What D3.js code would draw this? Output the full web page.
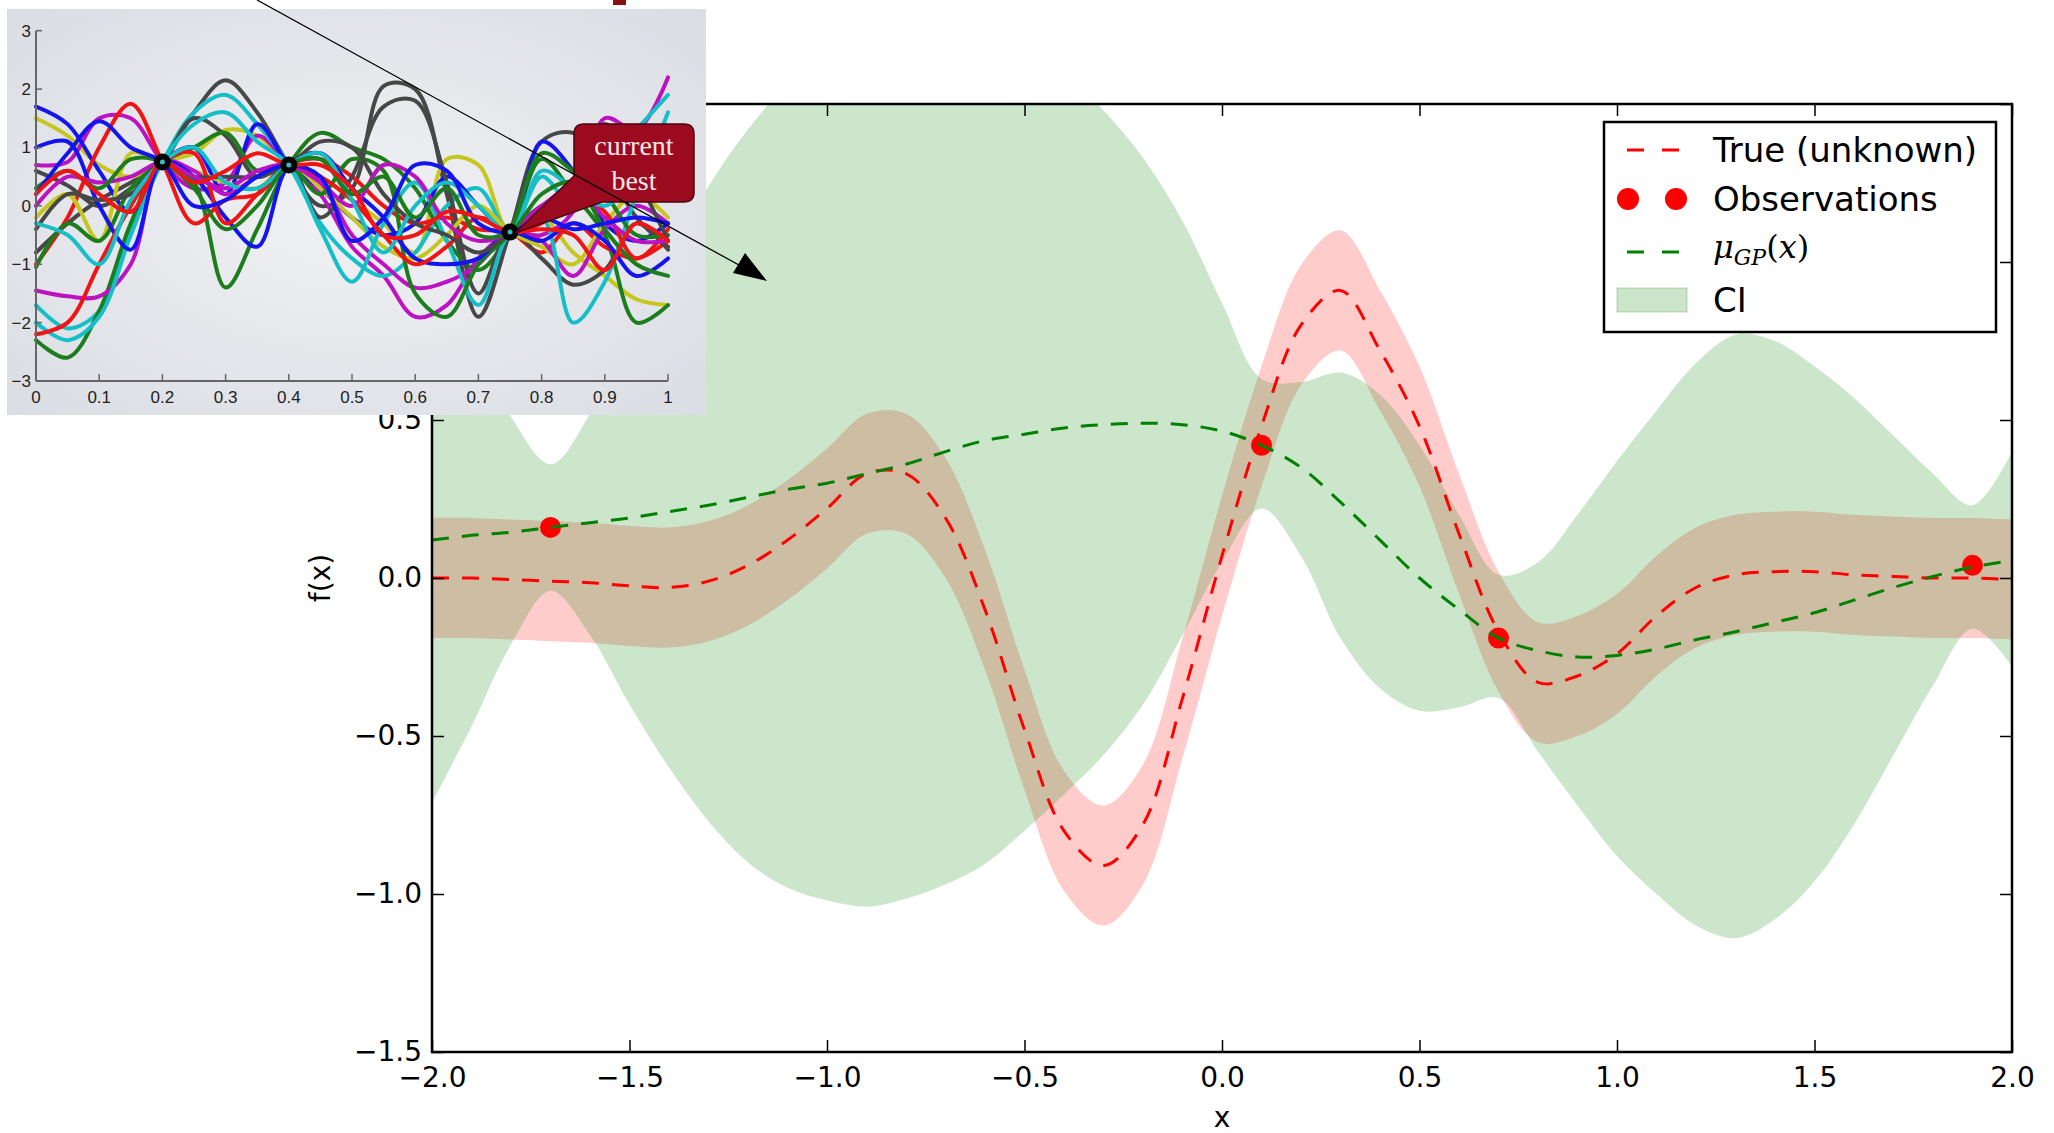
<!DOCTYPE html>
<html><head><meta charset="utf-8">
<script src="https://cdn.jsdelivr.net/npm/d3@7"></script>
<style>body{margin:0;background:#fff}svg{display:block}</style>
</head><body>
<svg id="c" width="2054" height="1133" xmlns="http://www.w3.org/2000/svg"></svg>
<script>
// ---------- main chart data ----------
const xGrid = [-2.0,-1.9,-1.8,-1.7,-1.6,-1.5,-1.4,-1.3,-1.2,-1.1,-1.0,-0.9,-0.8,-0.7,-0.6,-0.5,-0.4,-0.3,-0.2,-0.1,0.0,0.1,0.2,0.3,0.4,0.5,0.6,0.7,0.8,0.9,1.0,1.1,1.2,1.3,1.4,1.5,1.6,1.7,1.8,1.9,2.0];
const trueVals = [0.00,0.00,-0.005,-0.01,-0.015,-0.025,-0.03,-0.01,0.04,0.12,0.22,0.33,0.33,0.19,-0.10,-0.48,-0.80,-0.91,-0.78,-0.38,0.07,0.48,0.80,0.91,0.72,0.48,0.14,-0.17,-0.33,-0.31,-0.24,-0.12,-0.03,0.01,0.02,0.02,0.01,0.005,0.0,0.0,-0.005];
const trueNoise = 0.19;
const meanVals = [0.12,0.135,0.145,0.16,0.175,0.19,0.21,0.23,0.255,0.28,0.30,0.33,0.36,0.40,0.435,0.455,0.475,0.485,0.49,0.485,0.465,0.42,0.35,0.24,0.12,0.0,-0.10,-0.19,-0.23,-0.25,-0.245,-0.225,-0.195,-0.17,-0.14,-0.11,-0.07,-0.03,0.005,0.035,0.055];
const ciUpper = [0.95,0.74,0.51,0.36,0.52,0.78,1.02,1.24,1.42,1.56,1.64,1.70,1.74,1.75,1.73,1.68,1.61,1.48,1.33,1.13,0.87,0.63,0.62,0.65,0.58,0.42,0.20,0.01,0.05,0.20,0.37,0.53,0.68,0.77,0.75,0.67,0.57,0.45,0.33,0.23,0.40];
const ciLower = [-0.71,-0.47,-0.21,-0.04,-0.18,-0.40,-0.60,-0.77,-0.90,-0.98,-1.02,-1.04,-1.015,-0.97,-0.905,-0.80,-0.685,-0.56,-0.40,-0.18,0.05,0.22,0.07,-0.19,-0.35,-0.42,-0.41,-0.38,-0.55,-0.72,-0.88,-1.00,-1.10,-1.14,-1.08,-0.96,-0.78,-0.56,-0.34,-0.16,-0.28];
const obsX = [-1.7,0.1,0.7,1.9];
const obsY = [0.16,0.42,-0.19,0.04];
const xTicks = [-2.0,-1.5,-1.0,-0.5,0.0,0.5,1.0,1.5,2.0];
const yTicks = [-1.5,-1.0,-0.5,0.0,0.5,1.0,1.5];
const legendLabels = ["True (unknown)","Observations","CI"];

// ---------- inset data ----------
const insetX = [0,0.05,0.1,0.15,0.2,0.25,0.3,0.35,0.4,0.45,0.5,0.55,0.6,0.65,0.7,0.75,0.8,0.85,0.9,0.95,1.0];
const insetObsX = [0.2,0.4,0.75];
const insetObsY = [0.75,0.7,-0.45];
const insetXTicks = [0,0.1,0.2,0.3,0.4,0.5,0.6,0.7,0.8,0.9,1];
const insetYTicks = [-3,-2,-1,0,1,2,3];
const insetGray = [
 [-0.8,-0.3,0.1,0.4,0.75,1.6,2.15,1.6,0.7,0.0,0.3,2.05,2.0,0.2,-1.9,-0.45,1.1,1.25,0.7,-0.2,-0.7],
 [0.6,0.35,0.0,0.3,0.75,1.5,1.2,0.5,0.7,-0.2,0.5,1.7,1.8,0.4,-1.5,-0.45,-0.9,-1.35,-1.1,-0.3,-0.75],
 [-0.4,0.2,0.1,0.2,0.75,0.5,0.5,0.5,0.7,1.1,1.0,0.2,-0.3,-0.5,-0.8,-0.45,0.0,0.2,1.4,0.5,-0.6]];
const insetBlue = [
 [1.7,1.4,0.6,-0.1,0.75,1.0,0.2,1.4,0.7,0.3,-0.2,-0.5,-0.3,0.5,0.0,-0.45,1.1,0.6,-0.3,-0.6,-0.3],
 [1.0,1.1,0.0,-0.75,0.75,0.5,-0.2,-0.7,0.7,0.9,0.3,-0.2,-0.9,-1.0,-0.9,-0.45,-0.6,-0.3,-0.6,-1.2,-0.9],
 [0.2,0.9,1.45,1.0,0.75,0.0,0.1,0.5,0.7,0.5,-0.6,-0.2,0.7,0.6,-0.3,-0.45,-0.2,-0.4,-0.3,-0.2,-0.3]];
const insetRed = [
 [-1.0,-0.2,1.0,1.75,0.75,-0.3,0.1,0.2,0.7,0.8,0.5,0.0,-0.3,-0.2,-0.4,-0.45,-0.8,-0.3,-0.7,-0.9,-0.6],
 [-2.2,-2.0,-1.0,0.0,0.75,0.9,-0.3,0.2,0.7,0.5,0.1,-0.5,-1.0,-0.7,-0.2,-0.45,-0.3,0.2,-0.1,-0.9,-0.4],
 [0.2,0.6,0.2,-0.1,0.75,0.4,0.6,0.9,0.7,0.7,0.3,-0.5,-0.5,-0.1,-0.2,-0.45,-0.4,-0.5,-1.1,-0.3,-0.6]];
const insetGreen = [
 [-2.3,-2.6,-1.8,-0.3,0.75,0.4,-1.4,-0.4,0.7,1.25,1.0,0.8,0.3,-0.6,-1.1,-0.45,0.8,0.2,-0.5,-2.0,-1.7],
 [-1.05,-0.3,-0.6,0.3,0.75,1.0,1.25,0.6,0.7,0.2,0.8,0.6,-1.5,-1.9,-1.0,-0.45,0.9,0.6,0.2,-0.5,-0.5],
 [0.3,0.6,0.3,0.8,0.75,0.3,-0.4,0.0,0.7,0.8,0.2,0.5,-0.2,0.3,-0.5,-0.45,0.2,0.4,-0.4,-1.0,-1.2]];
const insetCyan = [
 [-1.7,-2.1,-1.8,-0.4,0.75,1.6,1.9,1.4,0.7,-0.3,-0.9,-1.2,-0.8,0.0,0.3,-0.45,0.5,0.0,0.7,1.3,1.9],
 [-2.0,-2.3,-1.9,-0.5,0.75,1.4,1.6,1.1,0.7,-0.4,-1.3,-0.3,0.4,-0.6,-1.7,-0.45,-0.2,-2.0,-1.3,0.2,1.6],
 [-0.3,-0.5,-1.0,0.1,0.75,1.0,0.4,0.3,0.7,0.9,0.1,-0.8,0.0,0.4,0.0,-0.45,0.6,0.3,0.0,0.4,0.1]];
const insetMagenta = [
 [0.7,0.75,1.5,1.5,0.75,0.3,0.4,1.2,0.7,0.2,-0.7,-1.2,-1.9,-1.7,-0.9,-0.45,-0.5,-0.1,1.5,1.3,2.2],
 [-1.45,-1.55,-1.55,-1.0,0.75,0.6,0.2,0.5,0.7,0.4,-0.5,-1.0,-1.4,-1.3,-1.0,-0.45,-0.6,-1.2,-0.4,0.0,-0.3],
 [0.0,0.5,0.4,0.5,0.75,0.5,0.3,0.6,0.7,0.4,0.0,0.7,0.5,-0.3,-0.6,-0.45,0.0,0.3,-0.2,-0.6,-0.6]];
const insetYellow = [
 [1.5,1.2,0.7,0.5,0.75,0.9,1.3,1.2,0.7,0.5,0.1,-0.3,-0.8,0.8,0.7,-0.45,-0.2,-0.8,-1.2,-1.6,-1.7],
 [-0.2,0.2,-0.6,0.9,0.75,0.6,0.4,0.3,0.7,0.3,-0.2,-0.7,-0.9,-0.5,0.0,-0.45,-0.7,-1.0,-0.3,0.2,-0.2]];

// ---------- drawing ----------
const svg = d3.select("#c");
const defs = svg.append("defs");
const FONT = "DejaVu Sans";
const x = d3.scaleLinear([-2, 2], [432, 2012]);
const y = d3.scaleLinear([-1.5, 1.5], [1052, 104]);
const smooth = d3.curveCatmullRom.alpha(0.5);

defs.append("clipPath").attr("id","plotClip").append("rect")
  .attr("x",432).attr("y",104).attr("width",1580).attr("height",948);
const plot = svg.append("g").attr("clip-path","url(#plotClip)");

const redBand = d3.area().curve(smooth)
  .x((d,i)=>x(xGrid[i])).y0((d,i)=>y(trueVals[i]-trueNoise)).y1((d,i)=>y(trueVals[i]+trueNoise));
plot.append("path").datum(xGrid).attr("d",redBand).attr("fill","#ff0000").attr("fill-opacity",0.2);
const ciArea = d3.area().curve(smooth)
  .x((d,i)=>x(xGrid[i])).y0((d,i)=>y(ciLower[i])).y1((d,i)=>y(ciUpper[i]));
plot.append("path").datum(xGrid).attr("d",ciArea).attr("fill","#008000").attr("fill-opacity",0.2);

const trueLine = d3.line().curve(smooth).x((d,i)=>x(xGrid[i])).y((d,i)=>y(trueVals[i]));
plot.append("path").datum(xGrid).attr("d",trueLine).attr("fill","none")
  .attr("stroke","#ff0000").attr("stroke-width",3).attr("stroke-dasharray","17,13");
plot.selectAll("circle.obs").data(obsX).join("circle").attr("class","obs")
  .attr("cx",d=>x(d)).attr("cy",(d,i)=>y(obsY[i])).attr("r",10.5).attr("fill","#ff0000");
const meanLine = d3.line().curve(smooth).x((d,i)=>x(xGrid[i])).y((d,i)=>y(meanVals[i]));
plot.append("path").datum(xGrid).attr("d",meanLine).attr("fill","none")
  .attr("stroke","#008000").attr("stroke-width",3).attr("stroke-dasharray","17,13");

// axes
const fmt = d3.format(".1f");
function styleAxis(g){
  g.select(".domain").remove();
  g.selectAll(".tick line").attr("stroke","#000").attr("stroke-width",1.5);
  g.selectAll("text").attr("fill","#000");
  g.attr("font-family",FONT).attr("font-size",28);
}
svg.append("g").attr("transform","translate(0,1052)")
  .call(d3.axisBottom(x).tickValues(xTicks).tickSize(-12).tickPadding(15).tickFormat(fmt)).call(styleAxis);
svg.append("g").attr("transform","translate(0,104)")
  .call(d3.axisTop(x).tickValues(xTicks).tickSize(-12).tickFormat("")).call(styleAxis);
svg.append("g").attr("transform","translate(432,0)")
  .call(d3.axisLeft(y).tickValues(yTicks).tickSize(-12).tickPadding(10).tickFormat(fmt)).call(styleAxis);
svg.append("g").attr("transform","translate(2012,0)")
  .call(d3.axisRight(y).tickValues(yTicks).tickSize(-12).tickFormat("")).call(styleAxis);
svg.append("rect").attr("x",432).attr("y",104).attr("width",1580).attr("height",948)
  .attr("fill","none").attr("stroke","#000").attr("stroke-width",2.5);

svg.append("text").attr("x",1222).attr("y",1127).attr("text-anchor","middle")
  .attr("font-family",FONT).attr("font-size",28).text("x");
svg.append("text").attr("transform","translate(330,578) rotate(-90)").attr("text-anchor","middle")
  .attr("font-family",FONT).attr("font-size",28).text("f(x)");

// legend
const lg = svg.append("g");
lg.append("rect").attr("x",1604).attr("y",122).attr("width",392).attr("height",210)
  .attr("fill","#fff").attr("stroke","#000").attr("stroke-width",2.5);
lg.append("line").attr("x1",1627).attr("x2",1679).attr("y1",150).attr("y2",150)
  .attr("stroke","#ff0000").attr("stroke-width",3).attr("stroke-dasharray","17,18");
lg.selectAll("circle").data([1628,1676]).join("circle").attr("cx",d=>d).attr("cy",199).attr("r",11).attr("fill","#ff0000");
lg.append("line").attr("x1",1627).attr("x2",1679).attr("y1",252).attr("y2",252)
  .attr("stroke","#008000").attr("stroke-width",3).attr("stroke-dasharray","17,18");
lg.append("rect").attr("x",1617).attr("y",288).attr("width",70).attr("height",24)
  .attr("fill","#008000").attr("fill-opacity",0.2).attr("stroke","#008000").attr("stroke-opacity",0.25);
const ltxt = lg.append("g").attr("font-family",FONT).attr("font-size",34).attr("fill","#000");
ltxt.append("text").attr("x",1713).attr("y",162).text(legendLabels[0]);
ltxt.append("text").attr("x",1713).attr("y",211).text(legendLabels[1]);
ltxt.append("text").attr("x",1713).attr("y",312).text(legendLabels[2]);
const mu = lg.append("text").attr("x",1713).attr("y",258).attr("font-family","DejaVu Serif").attr("font-size",32);
mu.append("tspan").attr("font-style","italic").text("μ");
mu.append("tspan").attr("font-style","italic").attr("font-size",22).attr("dy",7).text("GP");
mu.append("tspan").attr("dy",-7).text("(");
mu.append("tspan").attr("font-style","italic").text("x");
mu.append("tspan").text(")");

// ---------- inset ----------
const grad = defs.append("radialGradient").attr("id","panelGrad").attr("cx","50%").attr("cy","50%").attr("r","70%");
grad.append("stop").attr("offset","0%").attr("stop-color","#f1f2f4");
grad.append("stop").attr("offset","100%").attr("stop-color","#dadde3");
const inset = svg.append("g");
inset.append("rect").attr("x",7).attr("y",9).attr("width",699).attr("height",406).attr("fill","url(#panelGrad)");
const ix = d3.scaleLinear([0,1],[36,668]);
const iy = d3.scaleLinear([-3,3],[381,30.7]);
const iline = d3.line().curve(smooth).x((d,i)=>ix(insetX[i])).y(d=>iy(d));
const groups = [
  [insetGray,"#474747"],[insetYellow,"#c6c61c"],[insetMagenta,"#bd12c2"],[insetCyan,"#16bfc7"],
  [insetGreen,"#1b7d1b"],[insetBlue,"#1414f0"],[insetRed,"#f01414"]];
const order = [];
for (let k=0;k<3;k++) groups.forEach(([arr,col])=>{ if (arr[k]) order.push([arr[k],col]); });
inset.selectAll("path.samp").data(order).join("path").attr("class","samp")
  .attr("d",d=>iline(d[0])).attr("fill","none").attr("stroke",d=>d[1])
  .attr("stroke-width",4).attr("stroke-linecap","round").attr("stroke-linejoin","round");
// inset axes
inset.append("line").attr("x1",36).attr("x2",36).attr("y1",iy(3)).attr("y2",iy(-3)).attr("stroke","#666").attr("stroke-width",2);
inset.append("line").attr("x1",36).attr("x2",668).attr("y1",iy(-3)).attr("y2",iy(-3)).attr("stroke","#666").attr("stroke-width",2);
inset.selectAll("line.ity").data(insetYTicks).join("line").attr("class","ity")
  .attr("x1",36).attr("x2",42).attr("y1",d=>iy(d)).attr("y2",d=>iy(d)).attr("stroke","#666").attr("stroke-width",1.5);
inset.selectAll("line.itx").data(insetXTicks).join("line").attr("class","itx")
  .attr("x1",d=>ix(d)).attr("x2",d=>ix(d)).attr("y1",iy(-3)).attr("y2",iy(-3)-7).attr("stroke","#666").attr("stroke-width",1.5);
const ifmt = d=> d<0 ? "\u2212"+Math.abs(d) : String(d);
inset.selectAll("text.ily").data(insetYTicks).join("text").attr("class","ily")
  .attr("x",31).attr("y",d=>iy(d)+6).attr("text-anchor","end")
  .attr("font-family","Liberation Sans").attr("font-size",17).attr("fill","#222").text(ifmt);
inset.selectAll("text.ilx").data(insetXTicks).join("text").attr("class","ilx")
  .attr("x",d=>ix(d)).attr("y",403).attr("text-anchor","middle")
  .attr("font-family","Liberation Sans").attr("font-size",17).attr("fill","#222").text(d=>String(d));
inset.selectAll("circle.iob").data(insetObsX).join("circle").attr("class","iob")
  .attr("cx",d=>ix(d)).attr("cy",(d,i)=>iy(insetObsY[i])).attr("r",8.5).attr("fill","#000");
inset.selectAll("circle.iobc").data(insetObsX).join("circle").attr("class","iobc")
  .attr("cx",d=>ix(d)).attr("cy",(d,i)=>iy(insetObsY[i])).attr("r",2.5).attr("fill","#36b8c0");

// callout
svg.append("path")
  .attr("d","M584,124 H684 Q694,124 694,134 V192 Q694,202 684,202 H602 L515,233 L574,176 V134 Q574,124 584,124 Z")
  .attr("fill","#9c0a1f").attr("stroke","#4a0510").attr("stroke-width",1.5);
const ct = svg.append("g").attr("font-family","Liberation Serif").attr("font-size",28).attr("fill","#f5e8e8").attr("text-anchor","middle");
ct.append("text").attr("x",634).attr("y",155).text("current");
ct.append("text").attr("x",634).attr("y",190).text("best");

// top fragment and arrow
svg.append("rect").attr("x",613).attr("y",0).attr("width",13).attr("height",5).attr("fill","#8a1010");
svg.append("line").attr("x1",257).attr("y1",0).attr("x2",748).attr("y2",270).attr("stroke","#000").attr("stroke-width",1.3);
svg.append("path").attr("d","M767,281 L733,273 L745,253 Z").attr("fill","#000");
</script>
</body></html>
